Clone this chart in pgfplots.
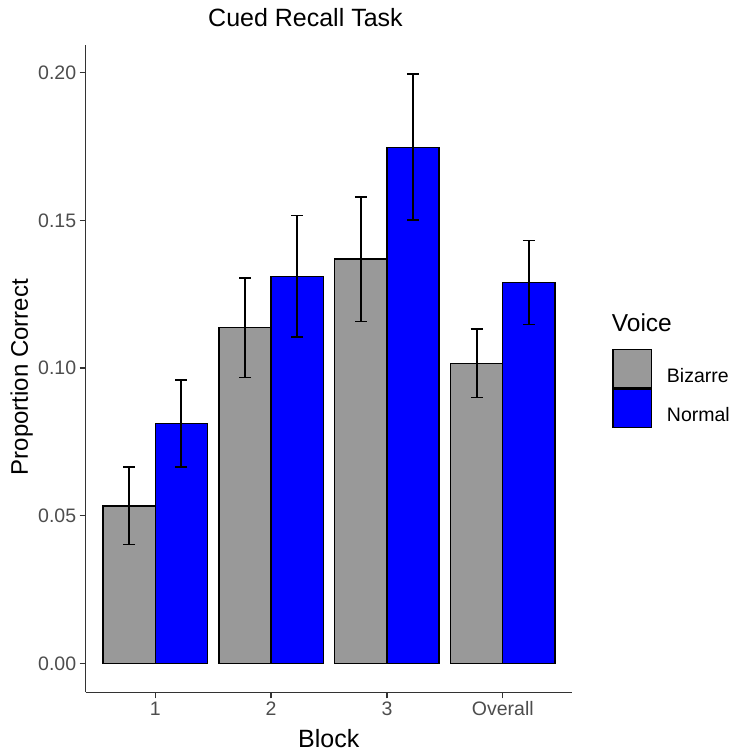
\documentclass[border=0pt]{standalone}
\usepackage{pgfplots}
\usepackage{pgfplotstable}
\pgfplotsset{compat=1.18}
\usepackage{fontspec}
\setmainfont{Liberation Sans}
\definecolor{barGray}{RGB}{153,153,153}
\definecolor{tickGray}{RGB}{77,77,77}
\definecolor{axGray}{RGB}{51,51,51}

\pgfplotsset{boxlegend/.style={legend image code/.code={\draw[##1, line width=1.3pt] (0pt,-12.2pt) rectangle (38.3pt,26.2pt);}}}

\pgfplotstableread{
x y e
1 0.0533 0.0131
2 0.1136 0.0168
3 0.1369 0.0211
4 0.1016 0.0116
}\bizarre
\pgfplotstableread{
x y e
1 0.0812 0.0147
2 0.1311 0.0205
3 0.1748 0.0247
4 0.1290 0.0142
}\normal

\begin{document}
\begin{tikzpicture}
\useasboundingbox (0pt,0pt) rectangle (730pt,755pt);
\begin{axis}[
  at={(85.7pt,62.7pt)}, anchor=south west,
  scale only axis, width=486.6pt, height=647.3pt,
  xmin=0.4, xmax=4.6, ymin=-0.00982, ymax=0.2094,
  ybar=0pt, bar width=0.45,
  axis lines=left, axis line style={-, line width=1.4pt, axGray},
  xtick={1,2,3,4}, xticklabels={1,2,3,Overall},
  ytick={0,0.05,0.10,0.15,0.20},
  yticklabel style={/pgf/number format/fixed, /pgf/number format/fixed zerofill, /pgf/number format/precision=2},
  /pgf/number format/assume math mode=true,
  tick align=outside, major tick length=6pt,
  tick style={line width=1.2pt, axGray},
  ticklabel style={font=\fontsize{19.5}{20}\selectfont, text=tickGray},
  clip=false,
  legend style={at={(1.0823,0.5306)}, anchor=north west, draw=none, fill=none,
    inner sep=0pt, outer sep=0pt, row sep=0pt, column sep=15pt,
    font=\fontsize{19.5}{20}\selectfont, nodes={inner sep=0pt, outer sep=0pt}},
  legend cell align=left,
]
\addplot[fill=barGray, draw=black, line width=1.2pt, boxlegend,
  error bars/.cd, y dir=both, y explicit, error mark=-,
  error bar style={line width=1.6pt, black},
  error mark options={rotate=90, line width=1.6pt, mark size=6pt, black}]
  table[x=x, y=y, y error=e] {\bizarre};
\addlegendentry{Bizarre}
\addplot[fill=blue, draw=black, line width=1.2pt, boxlegend,
  error bars/.cd, y dir=both, y explicit, error mark=-,
  error bar style={line width=1.6pt, black},
  error mark options={rotate=90, line width=1.6pt, mark size=6pt, black}]
  table[x=x, y=y, y error=e] {\normal};
\addlegendentry{Normal}
\end{axis}
\node[anchor=base west, font=\fontsize{25}{26}\selectfont, inner sep=0pt] at (208pt,728.3pt) {Cued Recall Task};
\node[anchor=base west, font=\fontsize{25}{26}\selectfont, inner sep=0pt] at (298pt,7pt) {Block};
\node[anchor=base, rotate=90, font=\fontsize{24}{25}\selectfont, inner sep=0pt] at (28pt,378pt) {Proportion Correct};
\node[anchor=base west, font=\fontsize{24.5}{25}\selectfont, inner sep=0pt] at (611.7pt,423.3pt) {Voice};
\end{tikzpicture}
\end{document}
